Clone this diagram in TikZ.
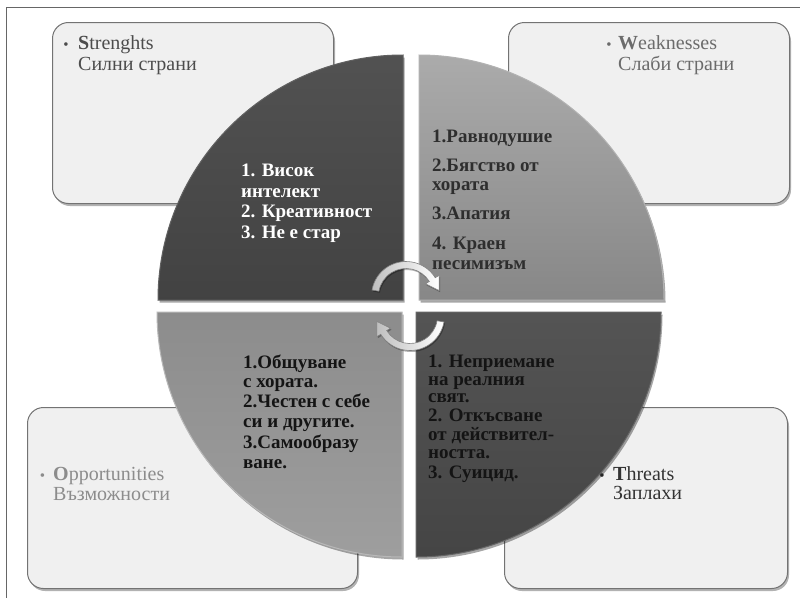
\documentclass[tikz,border=0pt]{standalone}
\usepackage{fontspec}
\setmainfont{Liberation Serif}
\usetikzlibrary{shadows}
\begin{document}
\begin{tikzpicture}[x=1pt,y=-1pt,
  box/.style={draw=black!55, line width=1pt, fill=black!6, rounded corners=16pt,
    drop shadow={shadow xshift=1.5pt,shadow yshift=-2.5pt,fill=black,opacity=.3}},
  lbl/.style={font=\fontsize{20}{22}\selectfont, inner sep=0pt, anchor=base west},
  bul/.style={font=\fontsize{15}{16}\selectfont, inner sep=0pt, anchor=base},
  qt/.style={font=\bfseries\fontsize{19}{21}\selectfont, inner sep=0pt, anchor=base west},
  quad/.style={line width=1pt,
    drop shadow={shadow xshift=1.5pt,shadow yshift=-2.5pt,fill=black,opacity=.35}},
  arr/.style={left color=black!25, right color=white, draw=black!50, line width=0.6pt,
    drop shadow={shadow xshift=1pt,shadow yshift=-1.5pt,fill=black,opacity=.3}},
]
\useasboundingbox (0,0) rectangle (800,597);
\fill[white] (0,0) rectangle (800,597);
\draw[black!60, line width=1pt] (6,600) -- (6,7) -- (803,7);

% boxes
\node[box, anchor=north west, minimum width=281pt, minimum height=181pt] (sbox) at (52,22) {};
\node[box, anchor=north west, minimum width=281pt, minimum height=181pt] (wbox) at (508,22) {};
\node[box, anchor=north west, minimum width=330pt, minimum height=181pt] (obox) at (27,407) {};
\node[box, anchor=north west, minimum width=283pt, minimum height=181pt] (tbox) at (504,407) {};

% box labels
\node[bul, text=black!70] (sb) at (66,49.5) {•};
\node[lbl, text=black!70] (s1) at (78,49.5) {\textbf{S}trenghts};
\node[lbl, text=black!70] (s2) at (78,70.5) {Силни страни};
\node[bul, text=black!58] (wb) at (609,49) {•};
\node[lbl, text=black!58] (w1) at (618,49) {\textbf{W}eaknesses};
\node[lbl, text=black!58] (w2) at (618,70) {Слаби страни};
\node[bul, text=black!45] (ob) at (42.5,480) {•};
\node[lbl, text=black!45] (o1) at (53,480) {\textbf{O}pportunities};
\node[lbl, text=black!45] (o2) at (53,500) {Възможности};

% quadrants
\path[quad, top color=black!68, bottom color=black!74, draw=black!62]
  (403,300) -- ++(-245,0) arc[start angle=180, end angle=270, radius=245] -- cycle;
\path[quad, top color=black!33, bottom color=black!47, draw=black!30]
  (419,300) -- ++(245,0) arc[start angle=0, end angle=-90, radius=245] -- cycle;
\path[quad, top color=black!45, bottom color=black!38, draw=black!28]
  (402,312) -- ++(-245,0) arc[start angle=180, end angle=90, radius=245] -- cycle;
\path[quad, top color=black!67, bottom color=black!73, draw=black!60]
  (416,312) -- ++(245,0) arc[start angle=0, end angle=90, radius=245] -- cycle;

\node[bul, text=black!85] (tb) at (602,480) {•};
\node[lbl, text=black!80] (t1) at (613,480) {\textbf{T}hreats};
\node[lbl, text=black!80] (t2) at (613,499) {Заплахи};

% quadrant texts
\begin{scope}[every node/.style={qt, text=white}]
\node (a1) at (241,176) {1. Висок};
\node (a2) at (241,197) {интелект};
\node (a3) at (241,217.5) {2. Креативност};
\node (a4) at (241,238) {3. Не е стар};
\end{scope}
\begin{scope}[every node/.style={qt, text=black!82}]
\node (b1) at (432,142) {1.Равнодушие};
\node (b2) at (432,171) {2.Бягство от};
\node (b3) at (432,190) {хората};
\node (b4) at (432,219) {3.Апатия};
\node (b5) at (432,249) {4. Краен};
\node (b6) at (432,269) {песимизъм};
\end{scope}
\begin{scope}[every node/.style={qt, text=black!92}]
\node (c1) at (243,368) {1.Общуване};
\node (c2) at (243,387) {с хората.};
\node (c3) at (243,407) {2.Честен с себе};
\node (c4) at (243,427) {си и другите.};
\node (c5) at (243,448) {3.Самообразу};
\node (c6) at (243,468) {ване.};
\end{scope}
\begin{scope}[every node/.style={qt, text=black!92}]
\node (d1) at (428,367) {1. Неприемане};
\node (d2) at (428,385) {на реалния};
\node (d3) at (428,402.5) {свят.};
\node (d4) at (428,421) {2. Откъсване};
\node (d5) at (428,440) {от действител-};
\node (d6) at (428,458.5) {ността.};
\node (d7) at (428,478) {3. Суицид.};
\end{scope}

% circular arrows
\begin{scope}[shift={(406,296)}]
\path[arr] (-170:34.5) arc[start angle=-170, end angle=-32, radius=34.5]
  -- (-32:39) -- (33.2,-5.4) -- (-32:23) -- (-32:27.5)
  arc[start angle=-32, end angle=-170, radius=27.5] -- cycle;
\end{scope}
\begin{scope}[shift={(410,316)}]
\path[arr] (10:34.5) arc[start angle=10, end angle=148, radius=34.5]
  -- (148:39) -- (-33.2,5.4) -- (148:23) -- (148:27.5)
  arc[start angle=148, end angle=10, radius=27.5] -- cycle;
\end{scope}
\end{tikzpicture}
\end{document}
